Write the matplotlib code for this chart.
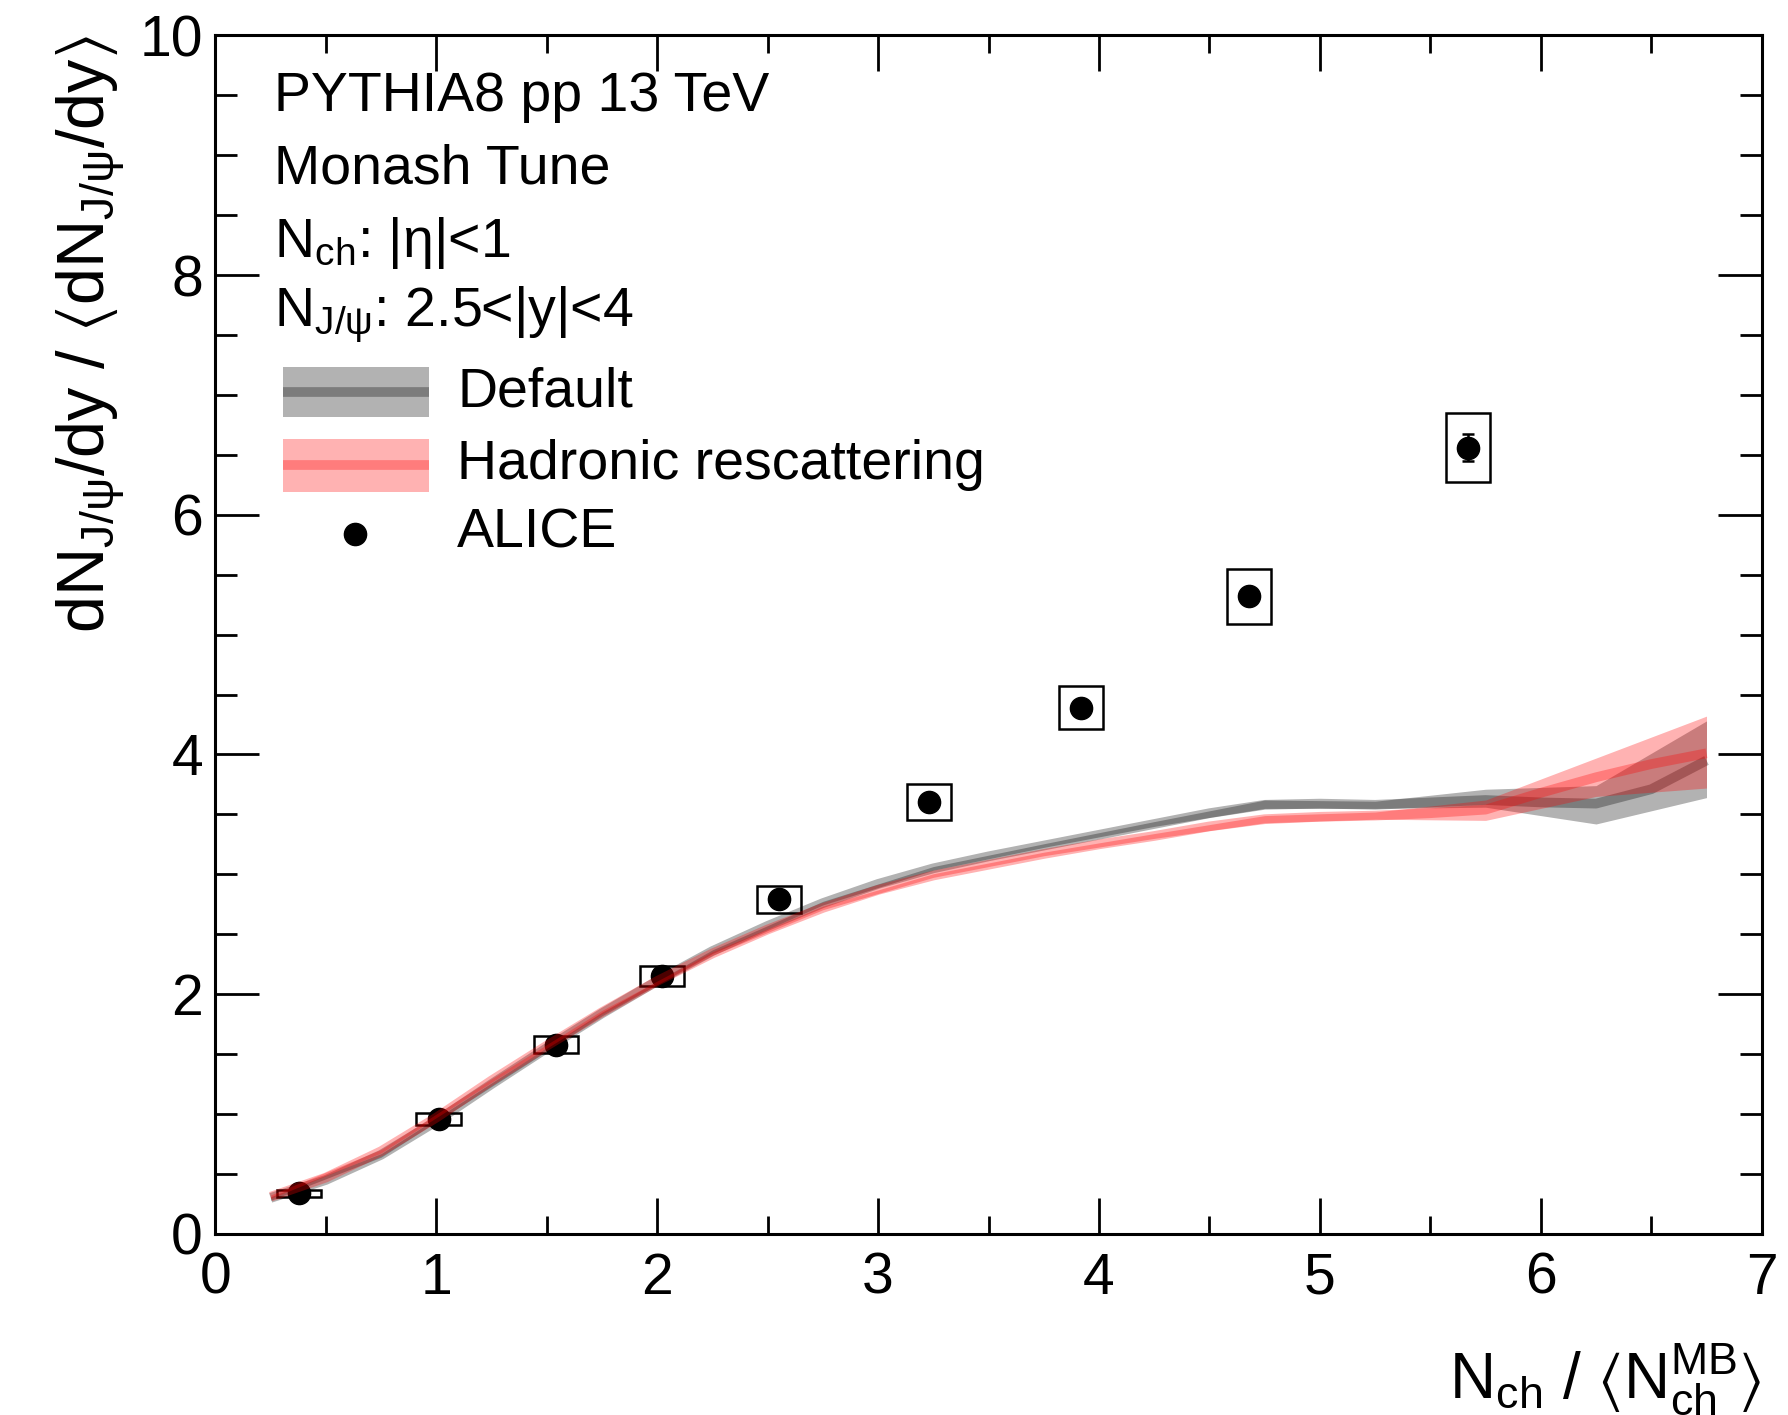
import numpy as np
import matplotlib
matplotlib.use("Agg")
import matplotlib.pyplot as plt
from matplotlib.patches import Rectangle
from matplotlib.lines import Line2D
from matplotlib.ticker import MultipleLocator

plt.rcParams['font.family'] = ['Liberation Sans', 'DejaVu Sans']
plt.rcParams['mathtext.fontset'] = 'custom'
plt.rcParams['mathtext.rm'] = 'Liberation Sans'
plt.rcParams['mathtext.it'] = 'Liberation Sans:italic'
plt.rcParams['mathtext.default'] = 'regular'

# PYTHIA8 curves (central values)
line_x = [0.25, 0.50, 0.75, 1.00, 1.25, 1.50, 1.75, 2.00, 2.25, 2.50, 2.75, 3.00, 3.25, 3.50,
          3.75, 4.00, 4.25, 4.50, 4.75, 5.00, 5.25, 5.50, 5.75, 6.00, 6.25, 6.50, 6.75]
default_y = [0.30, 0.45, 0.66, 0.94, 1.25, 1.55, 1.84, 2.11, 2.36, 2.57, 2.76, 2.92, 3.05, 3.15,
             3.24, 3.33, 3.42, 3.51, 3.58, 3.59, 3.58, 3.60, 3.62, 3.60, 3.59, 3.71, 3.95]
rescat_y = [0.31, 0.47, 0.69, 0.97, 1.28, 1.57, 1.85, 2.11, 2.34, 2.54, 2.72, 2.87, 2.99, 3.08,
            3.17, 3.25, 3.32, 3.40, 3.46, 3.48, 3.49, 3.51, 3.54, 3.68, 3.81, 3.92, 4.01]

# PYTHIA8 uncertainty bands
band_x = [0.25, 0.75, 1.25, 1.75, 2.25, 2.75, 3.25, 3.75, 4.25, 4.75, 5.25, 5.75, 6.25, 6.75]
default_lo = [0.28, 0.64, 1.23, 1.82, 2.34, 2.745, 3.035, 3.225, 3.40, 3.55, 3.55, 3.56, 3.42, 3.64]
default_hi = [0.31, 0.67, 1.26, 1.85, 2.37, 2.775, 3.065, 3.255, 3.44, 3.62, 3.61, 3.71, 3.74, 4.28]
rescat_lo = [0.295, 0.675, 1.265, 1.835, 2.325, 2.705, 2.975, 3.155, 3.30, 3.43, 3.46, 3.45, 3.65, 3.72]
rescat_hi = [0.325, 0.705, 1.295, 1.865, 2.355, 2.735, 3.005, 3.185, 3.34, 3.49, 3.52, 3.62, 3.97, 4.32]

# ALICE measurement
alice_x = [0.38, 1.01, 1.54, 2.02, 2.55, 3.23, 3.92, 4.68, 5.67]
alice_y = [0.34, 0.96, 1.58, 2.15, 2.79, 3.60, 4.39, 5.32, 6.56]
alice_stat = [0.01, 0.02, 0.03, 0.03, 0.04, 0.05, 0.05, 0.06, 0.11]
alice_syst = [0.03, 0.05, 0.07, 0.085, 0.11, 0.15, 0.18, 0.23, 0.29]
alice_syst_xw = 0.1

fig = plt.figure(figsize=(17.88, 14.15), dpi=100)
ax = fig.add_axes([0.1205, 0.128, 0.8648, 0.847])

# ALICE points with systematic boxes
for x, y, s in zip(alice_x, alice_y, alice_syst):
    ax.add_patch(Rectangle((x - alice_syst_xw, y - s), 2 * alice_syst_xw, 2 * s,
                           fill=False, edgecolor='black', linewidth=1.8, zorder=2))
ax.errorbar(alice_x, alice_y, yerr=alice_stat, fmt='o', color='black', markersize=16,
            elinewidth=1.8, capsize=4, capthick=1.8, zorder=3)

# model bands and lines
ax.fill_between(band_x, default_lo, default_hi, color='black', alpha=0.3, linewidth=0, zorder=4)
ax.plot(line_x, default_y, color='black', alpha=0.3, linewidth=7, solid_capstyle='butt',
        solid_joinstyle='round', zorder=5)
ax.fill_between(band_x, rescat_lo, rescat_hi, color='red', alpha=0.3, linewidth=0, zorder=6)
ax.plot(line_x, rescat_y, color='red', alpha=0.3, linewidth=7, solid_capstyle='butt',
        solid_joinstyle='round', zorder=7)

ax.set_xlim(0, 7)
ax.set_ylim(0, 10)
ax.xaxis.set_major_locator(MultipleLocator(1))
ax.xaxis.set_minor_locator(MultipleLocator(0.5))
ax.yaxis.set_major_locator(MultipleLocator(2))
ax.yaxis.set_minor_locator(MultipleLocator(0.5))
ax.tick_params(which='both', direction='in', top=True, right=True, width=2, labelsize=41)
ax.tick_params(axis='x', which='major', length=26, pad=13)
ax.tick_params(axis='x', which='minor', length=13)
ax.tick_params(axis='y', which='major', length=32, pad=9)
ax.tick_params(axis='y', which='minor', length=16)
for sp in ax.spines.values():
    sp.set_linewidth(2.2)

ax.set_xlabel(r'$\mathrm{N_{ch}}\ /\ \langle\mathrm{N_{ch}^{MB}}\rangle$', fontsize=46, ha='right')
ax.xaxis.set_label_coords(1.0, -0.09)
ax.set_ylabel(r'$\mathrm{dN_{J/\psi}/dy}\ /\ \langle\mathrm{dN_{J/\psi}/dy}\rangle$',
              fontsize=48, ha='right')
ax.yaxis.set_label_coords(-0.057, 1.0)

# annotation block and legend
tx = 0.0376
fs = 40
ax.text(tx, 0.9486, 'PYTHIA8 pp 13 TeV', transform=ax.transAxes, fontsize=fs, va='center')
ax.text(tx, 0.8877, 'Monash Tune', transform=ax.transAxes, fontsize=fs, va='center')
ax.text(tx, 0.8268, r'N$_{\rm ch}$: |η|<1', transform=ax.transAxes, fontsize=fs, va='center')
ax.text(tx, 0.7669, r'N$_{J/\psi}$: 2.5<|y|<4', transform=ax.transAxes, fontsize=fs, va='center')

sw_x0, sw_x1 = 0.0435, 0.1379
entries = [(0.7231, 0.6813, 'black', 'Default'),
           (0.6632, 0.6194, 'red', 'Hadronic rescattering')]
for top, bot, c, lab in entries:
    ax.add_patch(Rectangle((sw_x0, bot), sw_x1 - sw_x0, top - bot, transform=ax.transAxes,
                           facecolor=c, alpha=0.3, linewidth=0, zorder=8))
    ym = 0.5 * (top + bot)
    ax.add_line(Line2D([sw_x0, sw_x1], [ym, ym], transform=ax.transAxes, color=c,
                       alpha=0.3, linewidth=7, solid_capstyle='butt', zorder=9))
    ax.text(0.1563, ym, lab, transform=ax.transAxes, fontsize=fs, va='center')
ax.plot([0.09], [0.5842], 'o', color='black', markersize=16, transform=ax.transAxes, zorder=9)
ax.text(0.1563, 0.5842, 'ALICE', transform=ax.transAxes, fontsize=fs, va='center')

fig.savefig('out.png', dpi=100)
